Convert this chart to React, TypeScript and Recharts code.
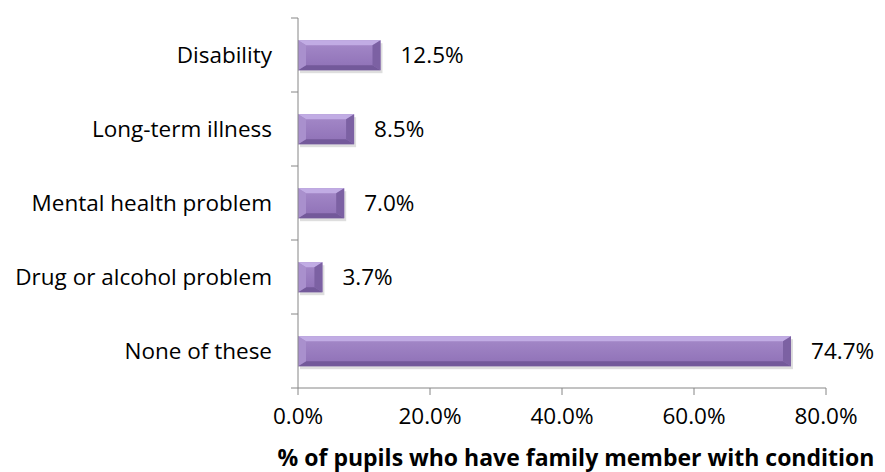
import React from 'react'
import { BarChart, Bar, XAxis, YAxis, LabelList } from 'recharts'

// Family member conditions, top to bottom as drawn
const categories = [
  'Disability',
  'Long-term illness',
  'Mental health problem',
  'Drug or alcohol problem',
  'None of these',
]
const shares = [12.5, 8.5, 7.0, 3.7, 74.7]
const xTicks = [0, 20, 40, 60, 80]

const data = categories.map((name, i) => ({ name, value: shares[i] }))

const W = 885
const H = 472
const MARGIN = { top: 18, right: 59, bottom: 0, left: 0 }
const Y_WIDTH = 298
const X_HEIGHT = 84
const PLOT_H = H - MARGIN.top - MARGIN.bottom - X_HEIGHT
const BAND = PLOT_H / categories.length

const FONT = '"Open Sans", Lato, sans-serif'
const FS = 22.5
const AXIS = '#868686'

const pct = (v: any) => `${Number(v).toFixed(1)}%`

// category label at band centre, tick mark at band boundaries
function YTick(props: any) {
  const { y, payload, index } = props
  const ax = Y_WIDTH
  const top = y - BAND / 2
  return (
    <g>
      <text x={ax - 26} y={y} dy="0.35em" textAnchor="end" fontSize={FS} fill="#000" fontFamily={FONT}>
        {payload.value}
      </text>
      <line x1={ax - 7} x2={ax} y1={top} y2={top} stroke={AXIS} strokeWidth={1} />
      {index === categories.length - 1 && (
        <line x1={ax - 7} x2={ax} y1={top + BAND} y2={top + BAND} stroke={AXIS} strokeWidth={1} />
      )}
    </g>
  )
}

// bevelled bar, roughly like the Office "soft edge" look
function BevelBar(props: any) {
  const { x, y, width, height } = props
  if (!width || width <= 0) return null
  const b = Math.min(5, width / 2, height / 2)
  const s = Math.min(8, width / 2) // side bevel is wider than top/bottom
  const r = x + width
  const btm = y + height
  return (
    <g>
      <rect x={x + 2} y={y + 3} width={width} height={height} fill="rgba(0,0,0,0.13)" />
      <rect x={x} y={y} width={width} height={height} fill="url(#barFill)" />
      <polygon points={`${x},${y} ${r},${y} ${r - s},${y + b} ${x + s},${y + b}`} fill="#c1ace4" />
      <polygon points={`${x},${btm} ${r},${btm} ${r - s},${btm - b} ${x + s},${btm - b}`} fill="#73599a" />
      <polygon points={`${x},${y} ${x + s},${y + b} ${x + s},${btm - b} ${x},${btm}`} fill="#a990cd" />
      <polygon points={`${r},${y} ${r - s},${y + b} ${r - s},${btm - b} ${r},${btm}`} fill="#7c61a3" />
    </g>
  )
}

export default function App() {
  return (
    <div style={{ position: 'absolute', left: 0, top: 0, width: W, height: H, background: '#fff' }}>
      <BarChart width={W} height={H} data={data} layout="vertical" margin={MARGIN} barCategoryGap="30%">
        <defs>
          <linearGradient id="barFill" x1="0" y1="0" x2="0" y2="1">
            <stop offset="0%" stopColor="#a58ac9" />
            <stop offset="100%" stopColor="#8e70b6" />
          </linearGradient>
        </defs>
        <XAxis
          type="number"
          domain={[0, 80]}
          ticks={xTicks}
          tickFormatter={pct}
          height={X_HEIGHT}
          stroke={AXIS}
          tickSize={7}
          tickMargin={13}
          tick={{ fill: '#000', fontSize: FS, fontFamily: FONT }}
          label={{
            value: '% of pupils who have family member with condition',
            position: 'insideBottom',
            offset: 6,
            dx: 14,
            style: { fill: '#000', fontSize: 23, fontWeight: 700, fontFamily: FONT },
          }}
        />
        <YAxis
          type="category"
          dataKey="name"
          width={Y_WIDTH}
          stroke={AXIS}
          tickLine={false}
          tick={<YTick />}
        />
        <Bar dataKey="value" shape={<BevelBar />} isAnimationActive={false}>
          <LabelList
            dataKey="value"
            position="right"
            offset={20}
            formatter={pct}
            style={{ fill: '#000', fontSize: FS, fontFamily: FONT }}
          />
        </Bar>
      </BarChart>
    </div>
  )
}
